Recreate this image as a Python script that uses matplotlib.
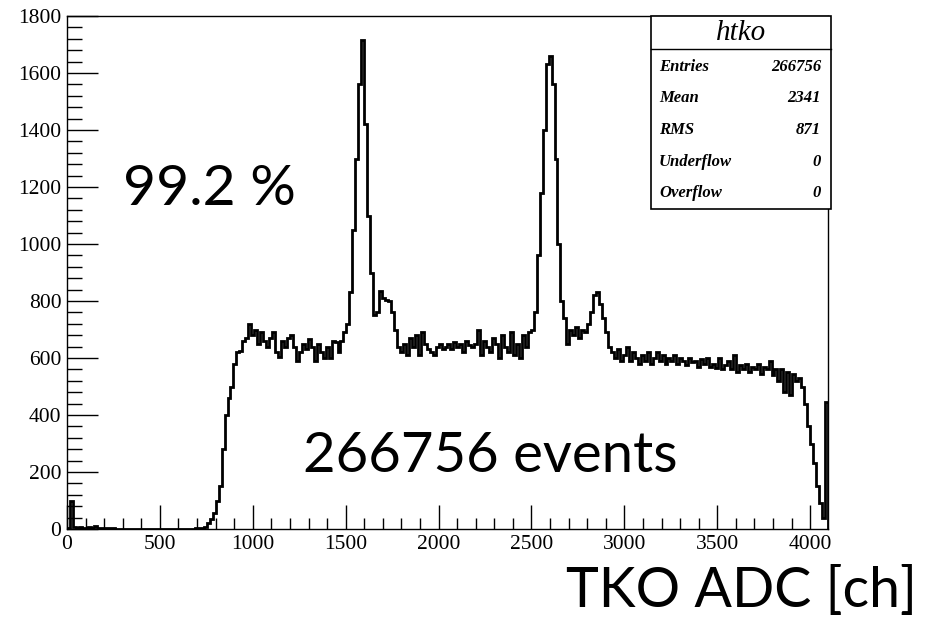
import matplotlib
matplotlib.use("Agg")
import matplotlib.pyplot as plt
import numpy as np
from matplotlib.ticker import MultipleLocator

# TKO ADC spectrum, 256 bins of 16 channels over 0..4096
bin_width = 16
n_bins = 256

counts_low = [2, 100, 6, 5, 6, 4, 5, 6, 5, 12,
              3, 3, 2, 2, 2, 2, 1, 1, 1, 1,
              1, 1, 1, 1, 1, 1, 1, 1, 1, 1,
              1, 1, 1, 1, 1, 1, 1, 1, 1, 1,
              1, 1, 1, 2, 2]                       # 0 .. 720
counts_rise = [3, 8, 20, 35, 55, 100, 150, 280, 400, 460,
               500, 580, 620, 625, 660, 670, 720]  # 720 .. 992
counts_plat1 = [680, 700, 650, 690, 660, 640, 670, 690, 620, 605,
                660, 640, 670, 680, 640, 590, 620, 650, 630, 665,
                640, 590, 650, 620, 600, 640, 600, 660, 655, 620,
                660, 690]                          # 992 .. 1504
counts_peak1 = [720, 830, 1050, 1300, 1560, 1716, 1420, 1100, 900, 750,
                760, 835, 810, 805, 800, 760, 700, 640]   # 1504 .. 1792
counts_plat2 = [620, 650, 610, 670, 640, 680, 610, 690, 650, 630,
                620, 610, 640, 650, 630, 640, 650, 630, 655, 640,
                650, 620, 660, 645, 640, 650, 700, 610, 660, 640,
                620, 670, 650, 600, 680, 640, 620, 690, 610, 650,
                600, 680, 640, 690, 700]           # 1792 .. 2512
counts_peak2 = [760, 960, 1180, 1400, 1630, 1660, 1560, 1300, 1000, 800,
                740, 650, 700, 680, 710, 670, 700, 690, 720, 760,
                820, 830, 790, 740, 690, 640]      # 2512 .. 2928
counts_tail = [620, 600, 630, 590, 610, 640, 590, 620, 600, 580,
               610, 590, 620, 580, 600, 620, 590, 610, 580, 600,
               590, 610, 580, 600, 590, 575, 600, 585, 590, 570,
               595, 580, 600, 570, 580, 565, 600, 560, 575, 590,
               560, 610, 550, 575, 560, 580, 550, 570, 560, 580,
               545, 570, 560, 590, 540, 560, 520, 560, 480, 550,
               470, 545, 520, 530, 500, 440, 360, 300, 230, 150,
               90, 40, 445]                        # 2928 .. 4096

counts = np.array(counts_low + counts_rise + counts_plat1 + counts_peak1
                  + counts_plat2 + counts_peak2 + counts_tail, dtype=float)
edges = np.arange(n_bins + 1) * bin_width

stat_names = ["Entries", "Mean", "RMS", "Underflow", "Overflow"]
stat_values = ["266756", "2341", "871", "0", "0"]

plt.rcParams['font.family'] = ['Liberation Serif', 'DejaVu Serif']

fig = plt.figure(figsize=(9.29, 6.22), dpi=100)
ax = fig.add_axes([67/929, 1-529/622, (828-67)/929, (529-16)/622])

ax.stairs(counts[:n_bins], edges, color='black', linewidth=2.0)

ax.set_xlim(0, 4096)
ax.set_ylim(0, 1800)
ax.xaxis.set_major_locator(MultipleLocator(500))
ax.xaxis.set_minor_locator(MultipleLocator(100))
ax.yaxis.set_major_locator(MultipleLocator(200))
ax.yaxis.set_minor_locator(MultipleLocator(40))
ax.tick_params(axis='x', which='major', direction='in', length=17, width=1, pad=4, labelsize=15.5)
ax.tick_params(axis='x', which='minor', direction='in', length=8, width=1)
ax.tick_params(axis='y', which='major', direction='in', length=22, width=1, pad=4, labelsize=15.5)
ax.tick_params(axis='y', which='minor', direction='in', length=11, width=1)
ax.tick_params(top=False, right=False, which='both')
for s in ax.spines.values():
    s.set_linewidth(1.0)

big = ['Lato', 'DejaVu Sans']
fig.text(123/929, 1-205/622, "99.2 %", family=big, fontsize=41, ha='left', va='baseline')
fig.text(303/929, 1-472/622, "266756 events", family=big, fontsize=40.5, ha='left', va='baseline')
fig.text(917/929, 1-607/622, "TKO ADC [ch]", family=big, fontsize=40, ha='right', va='baseline')

# stats box
bx0, bx1, by0, by1 = 651/929, 831/929, 1-209/622, 1-16/622
fig.patches.append(plt.Rectangle((bx0, by0), bx1-bx0, by1-by0, transform=fig.transFigure,
                                 facecolor='white', edgecolor='black', linewidth=1.2, zorder=5))
fig.lines.append(plt.Line2D([bx0, bx1], [1-49/622, 1-49/622], transform=fig.transFigure,
                            color='black', linewidth=1.0, zorder=6))
fig.text((bx0+bx1)/2, 1-33/622, "htko", fontsize=21, style='italic', ha='center', va='center', zorder=7)
row_y = [67, 98, 130, 162, 193]
for name, val, yy in zip(stat_names, stat_values, row_y):
    fig.text(659/929, 1-yy/622, name, fontsize=12, style='italic', weight='bold', ha='left', va='center', zorder=7)
    fig.text(821/929, 1-yy/622, val, fontsize=12, style='italic', weight='bold', ha='right', va='center', zorder=7)

fig.savefig("out.png", dpi=100)
